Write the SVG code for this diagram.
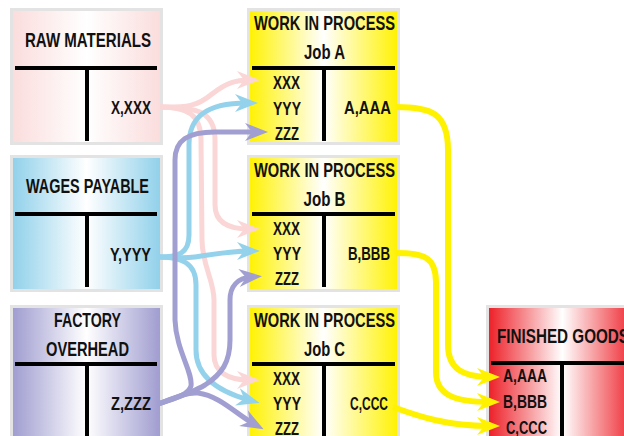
<svg xmlns="http://www.w3.org/2000/svg" width="624" height="436" viewBox="0 0 624 436">
<style>
.box{stroke:#e3e3e3;stroke-width:3}
.tl{stroke:#000;stroke-width:4;fill:none}
.t{font-family:"Liberation Sans Narrow","Liberation Sans",Arial,sans-serif;font-weight:bold;fill:#111;lengthAdjust:spacingAndGlyphs}
.h{font-size:20px}
.v{font-size:17.5px}
.c{fill:none;stroke-width:5}
.pk{stroke:#fbd6d6}
.bl{stroke:#94d2ec}
.lv{stroke:#a19fd2}
.yl{stroke:#fff200;stroke-width:6}
</style>
<defs>
<linearGradient id="gRaw" x1="0" x2="1" y1="0" y2="0"><stop offset="0" stop-color="#fbdcdc"/><stop offset="0.5" stop-color="#ffffff"/><stop offset="1" stop-color="#fbdcdc"/></linearGradient>
<linearGradient id="gWage" x1="0" x2="1" y1="0" y2="0"><stop offset="0" stop-color="#8fd0ea"/><stop offset="0.5" stop-color="#ffffff"/><stop offset="1" stop-color="#8fd0ea"/></linearGradient>
<linearGradient id="gFO" x1="0" x2="1" y1="0" y2="0"><stop offset="0" stop-color="#9e9bcf"/><stop offset="0.5" stop-color="#ffffff"/><stop offset="1" stop-color="#9e9bcf"/></linearGradient>
<linearGradient id="gWIP" x1="0" x2="1" y1="0" y2="0"><stop offset="0" stop-color="#fff200"/><stop offset="0.5" stop-color="#ffffff"/><stop offset="1" stop-color="#fff200"/></linearGradient>
<linearGradient id="gFG" x1="0" x2="1" y1="0" y2="0"><stop offset="0" stop-color="#ed1c24"/><stop offset="0.5" stop-color="#ffffff"/><stop offset="1" stop-color="#ed1c24"/></linearGradient>
<marker id="aPk" markerUnits="userSpaceOnUse" markerWidth="23" markerHeight="18" refX="12" refY="9" orient="auto" overflow="visible"><path d="M0,0 L23,9 L0,18 L7,9 Z" fill="#fbd6d6"/></marker>
<marker id="aBl" markerUnits="userSpaceOnUse" markerWidth="23" markerHeight="18" refX="12" refY="9" orient="auto" overflow="visible"><path d="M0,0 L23,9 L0,18 L7,9 Z" fill="#94d2ec"/></marker>
<marker id="aLv" markerUnits="userSpaceOnUse" markerWidth="23" markerHeight="18" refX="12" refY="9" orient="auto" overflow="visible"><path d="M0,0 L23,9 L0,18 L7,9 Z" fill="#a19fd2"/></marker>
<marker id="aYl" markerUnits="userSpaceOnUse" markerWidth="23" markerHeight="18" refX="12" refY="9" orient="auto" overflow="visible"><path d="M0,0 L23,9 L0,18 L7,9 Z" fill="#fff200"/></marker>
</defs>

<g id="raw-materials">
<rect class="box" x="11.5" y="9.5" width="150" height="134" fill="url(#gRaw)"/>
<path class="tl" d="M15,68 H157 M87,68 V141"/>
<text class="t h" x="88" y="47" text-anchor="middle" textLength="126" lengthAdjust="spacingAndGlyphs">RAW MATERIALS</text>
<text class="t v" x="111" y="114" textLength="40" lengthAdjust="spacingAndGlyphs">X,XXX</text>
</g>

<g id="wages-payable">
<rect class="box" x="11.5" y="156.5" width="150" height="134" fill="url(#gWage)"/>
<path class="tl" d="M15,214 H157 M87,214 V287"/>
<text class="t h" x="87.5" y="193" text-anchor="middle" textLength="123" lengthAdjust="spacingAndGlyphs">WAGES PAYABLE</text>
<text class="t v" x="110" y="261" textLength="41" lengthAdjust="spacingAndGlyphs">Y,YYY</text>
</g>

<g id="factory-overhead">
<rect class="box" x="11.5" y="306.5" width="150" height="140" fill="url(#gFO)"/>
<path class="tl" d="M15,364 H157 M87,364 V440"/>
<text class="t h" x="87.5" y="327" text-anchor="middle" textLength="67" lengthAdjust="spacingAndGlyphs">FACTORY</text>
<text class="t h" x="87.5" y="356" text-anchor="middle" textLength="83" lengthAdjust="spacingAndGlyphs">OVERHEAD</text>
<text class="t v" x="111" y="410" textLength="40" lengthAdjust="spacingAndGlyphs">Z,ZZZ</text>
</g>

<g id="wip-job-a">
<rect class="box" x="248.5" y="9.5" width="150" height="134" fill="url(#gWIP)"/>
<path class="tl" d="M252,68 H395 M324,68 V141"/>
<text class="t h" x="324.5" y="30" text-anchor="middle" textLength="141" lengthAdjust="spacingAndGlyphs">WORK IN PROCESS</text>
<text class="t h" x="324.5" y="59" text-anchor="middle" textLength="41" lengthAdjust="spacingAndGlyphs">Job A</text>
<text class="t v" x="273" y="89" textLength="27" lengthAdjust="spacingAndGlyphs">XXX</text>
<text class="t v" x="273" y="115" textLength="28" lengthAdjust="spacingAndGlyphs">YYY</text>
<text class="t v" x="275" y="140" textLength="24" lengthAdjust="spacingAndGlyphs">ZZZ</text>
<text class="t v" x="344" y="114" textLength="47" lengthAdjust="spacingAndGlyphs">A,AAA</text>
</g>

<g id="wip-job-b">
<rect class="box" x="248.5" y="156.5" width="150" height="134" fill="url(#gWIP)"/>
<path class="tl" d="M252,214 H395 M324,214 V287"/>
<text class="t h" x="324.5" y="177" text-anchor="middle" textLength="141" lengthAdjust="spacingAndGlyphs">WORK IN PROCESS</text>
<text class="t h" x="324.5" y="206" text-anchor="middle" textLength="42" lengthAdjust="spacingAndGlyphs">Job B</text>
<text class="t v" x="273" y="235" textLength="27" lengthAdjust="spacingAndGlyphs">XXX</text>
<text class="t v" x="273" y="260" textLength="28" lengthAdjust="spacingAndGlyphs">YYY</text>
<text class="t v" x="275" y="285" textLength="24" lengthAdjust="spacingAndGlyphs">ZZZ</text>
<text class="t v" x="348" y="260" textLength="42" lengthAdjust="spacingAndGlyphs">B,BBB</text>
</g>

<g id="wip-job-c">
<rect class="box" x="248.5" y="306.5" width="150" height="140" fill="url(#gWIP)"/>
<path class="tl" d="M252,364 H395 M324,364 V440"/>
<text class="t h" x="324.5" y="327" text-anchor="middle" textLength="141" lengthAdjust="spacingAndGlyphs">WORK IN PROCESS</text>
<text class="t h" x="324.5" y="356" text-anchor="middle" textLength="41" lengthAdjust="spacingAndGlyphs">Job C</text>
<text class="t v" x="273" y="385" textLength="27" lengthAdjust="spacingAndGlyphs">XXX</text>
<text class="t v" x="273" y="410" textLength="28" lengthAdjust="spacingAndGlyphs">YYY</text>
<text class="t v" x="275" y="435" textLength="24" lengthAdjust="spacingAndGlyphs">ZZZ</text>
<text class="t v" x="350" y="410" textLength="38" lengthAdjust="spacingAndGlyphs">C,CCC</text>
</g>

<g id="finished-goods">
<rect class="box" x="487.5" y="306.5" width="150" height="140" fill="url(#gFG)"/>
<path class="tl" d="M491,363 H634 M562,363 V440"/>
<text class="t h" x="563" y="343" text-anchor="middle" textLength="132" lengthAdjust="spacingAndGlyphs">FINISHED GOODS</text>
<text class="t v" x="503" y="382" textLength="44" lengthAdjust="spacingAndGlyphs">A,AAA</text>
<text class="t v" x="503" y="408" textLength="44" lengthAdjust="spacingAndGlyphs">B,BBB</text>
<text class="t v" x="506" y="434" textLength="41" lengthAdjust="spacingAndGlyphs">C,CCC</text>
</g>

<g id="connectors">
<path class="c pk" marker-end="url(#aPk)" d="M160,107 C185,107 195,108 212,94 C226,83 236,80 249,80"/>
<path class="c pk" marker-end="url(#aPk)" d="M160,107 C198,107 215,112 215,140 L215,205 C215,222 228,229 249,229"/>
<path class="c pk" marker-end="url(#aPk)" d="M160,107 C188,107 201,115 201,140 L202,240 C202,265 214,280 214,300 L214,355 C214,372 228,380 249,380"/>

<path class="c bl" marker-end="url(#aBl)" d="M158,257 C172,257 180,259 195,257 C215,254 232,251 249,251"/>
<path class="c bl" marker-end="url(#aBl)" d="M158,257 C178,257 189,254 189,235 L189,145 C189,118 205,103 247,103"/>
<path class="c bl" marker-end="url(#aBl)" d="M158,257 C182,257 196,263 196,285 L196,350 C196,377 220,392 249,400"/>

<path class="c lv" marker-end="url(#aLv)" d="M158,404 C172,399 188,396 191,386 C193,372 176,350 175,320 L175,160 C175,140 188,132 215,132 L257,132"/>
<path class="c lv" marker-end="url(#aLv)" d="M158,404 C175,398 192,393 205,385 C222,374 230,362 230,340 L230,300 C230,286 238,278 251,277"/>
<path class="c lv" marker-end="url(#aLv)" d="M158,404 C172,399 185,392 198,393 C220,396 236,414 254,424"/>

<path class="c yl" marker-end="url(#aYl)" d="M396,107 C430,107 448,112 448,150 L448,345 C448,368 462,377 489,377"/>
<path class="c yl" marker-end="url(#aYl)" d="M396,253 C422,253 436,256 436,282 L436,372 C436,395 455,402 489,402"/>
<path class="c yl" marker-end="url(#aYl)" d="M393,407 C420,417 448,426 489,426"/>
</g>
</svg>
